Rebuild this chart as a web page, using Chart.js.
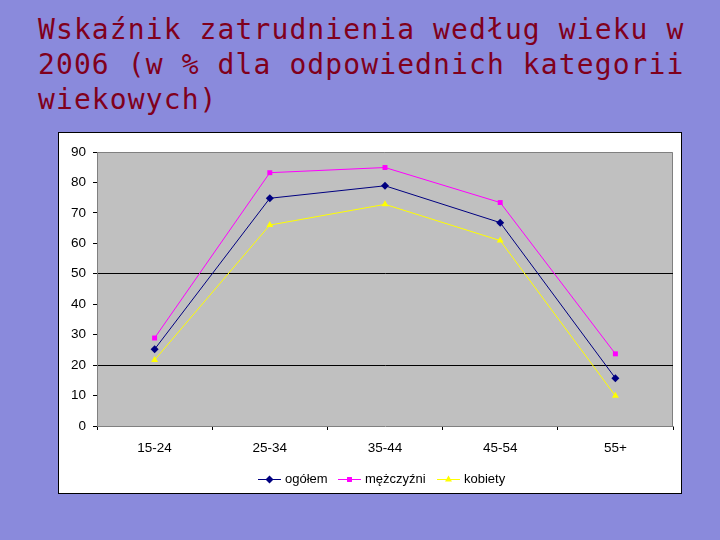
<!DOCTYPE html>
<html>
<head>
<meta charset="utf-8">
<script src="https://cdn.jsdelivr.net/npm/chart.js@4"></script>
<style>
  body { margin: 0; width: 720px; height: 540px; background: #8a8adc; position: relative; overflow: hidden; }
  #title {
    position: absolute; left: 38px; top: 12px; margin: 0;
    font-family: "DejaVu Sans Mono", monospace; font-size: 28px; letter-spacing: 1.1px;
    line-height: 35px; color: #80001c; font-weight: normal; white-space: pre;
  }
  #box { position: absolute; left: 58px; top: 132px; width: 622px; height: 360px; background: #fff; border: 1px solid #000; }
  #legend { position: absolute; left: 0; top: 338px; width: 622px; font-family: "Liberation Sans", Arial, sans-serif; font-size: 13px; }
  .item { position: absolute; top: 0; height: 16px; line-height: 16px; }
  .txt { position: absolute; left: 27px; top: 0; white-space: nowrap; }
</style>
</head>
<body>
<div id="title">Wskaźnik zatrudnienia według wieku w
2006 (w % dla odpowiednich kategorii
wiekowych)</div>
<div id="box">
  <canvas id="chart" width="622" height="360"></canvas>
  <div id="legend"></div>
</div>
<script>
const categories = ['15-24', '25-34', '35-44', '45-54', '55+'];
const ogolem = [25.2, 74.8, 78.9, 66.8, 15.7];
const mezczyzni = [28.9, 83.2, 84.9, 73.4, 23.7];
const kobiety = [21.7, 66.0, 72.8, 60.9, 9.9];
const yTicks = [0, 10, 20, 30, 40, 50, 60, 70, 80, 90];

const seriesNames = ['ogółem', 'mężczyźni', 'kobiety'];
const seriesColors = ['#000080', '#ff00ff', '#ffff00'];
const seriesMarkers = ['rectRot', 'rect', 'triangle'];
const markerSizes = [4, 3.5, 4];

// gray plot area + border
const plotBg = {
  id: 'plotBg',
  beforeDraw(chart) {
    const { ctx, chartArea: a } = chart;
    ctx.save();
    ctx.fillStyle = '#c0c0c0';
    ctx.fillRect(a.left, a.top, a.right - a.left, a.bottom - a.top);
    ctx.strokeStyle = '#808080';
    ctx.lineWidth = 1;
    ctx.beginPath();
    ctx.moveTo(a.left, a.top + 0.5);
    ctx.lineTo(a.right - 0.5, a.top + 0.5);
    ctx.lineTo(a.right - 0.5, a.bottom);
    ctx.stroke();
    ctx.restore();
  }
};

const ctx = document.getElementById('chart').getContext('2d');
const chart = new Chart(ctx, {
  type: 'line',
  data: {
    labels: categories,
    datasets: [ogolem, mezczyzni, kobiety].map((d, i) => ({
      label: seriesNames[i],
      data: d,
      borderColor: seriesColors[i],
      backgroundColor: seriesColors[i],
      borderWidth: 1,
      pointStyle: seriesMarkers[i],
      pointRadius: markerSizes[i],
      pointBorderWidth: 0,
      tension: 0
    }))
  },
  options: {
    responsive: false,
    animation: false,
    layout: { padding: { top: 19, right: 8, left: 0, bottom: 0 } },
    plugins: { legend: { display: false }, tooltip: { enabled: false } },
    scales: {
      x: {
        offset: true,
        grid: { offset: true, color: 'rgba(0,0,0,0)', tickColor: '#000', tickLength: 4, drawOnChartArea: false },
        border: { color: '#808080' },
        ticks: { color: '#000', font: { family: 'Liberation Sans', size: 13.5 }, padding: 10 },
        afterFit(s) { s.height = 67; }
      },
      y: {
        min: 0, max: 90,
        afterBuildTicks(s) { s.ticks = yTicks.map(v => ({ value: v })); },
        grid: {
          color: c => (c.tick && (c.tick.value == 20 || c.tick.value == 50)) ? '#000' : 'rgba(0,0,0,0)',
          tickColor: '#000', tickLength: 4
        },
        border: { color: '#808080' },
        ticks: { color: '#000', font: { family: 'Liberation Sans', size: 13.5 }, padding: 7 },
        afterFit(s) { s.width = 38; }
      }
    }
  },
  plugins: [plotBg]
});

// legend with line + marker
const legendPos = [199, 279, 378];
const legend = document.getElementById('legend');
seriesNames.forEach((name, i) => {
  const item = document.createElement('div');
  item.className = 'item';
  item.style.left = legendPos[i] + 'px';
  const c = document.createElement('canvas');
  c.width = 24; c.height = 16;
  c.style.position = 'absolute'; c.style.left = '0'; c.style.top = '0';
  const g = c.getContext('2d');
  g.strokeStyle = seriesColors[i];
  g.fillStyle = seriesColors[i];
  g.beginPath(); g.moveTo(0, 8.5); g.lineTo(23, 8.5); g.stroke();
  Chart.helpers.drawPoint(g, { pointStyle: seriesMarkers[i], radius: markerSizes[i], borderWidth: 0 }, 11.5, 8.5);
  item.appendChild(c);
  const t = document.createElement('span');
  t.className = 'txt';
  t.textContent = name;
  item.appendChild(t);
  legend.appendChild(item);
});
</script>
</body>
</html>
